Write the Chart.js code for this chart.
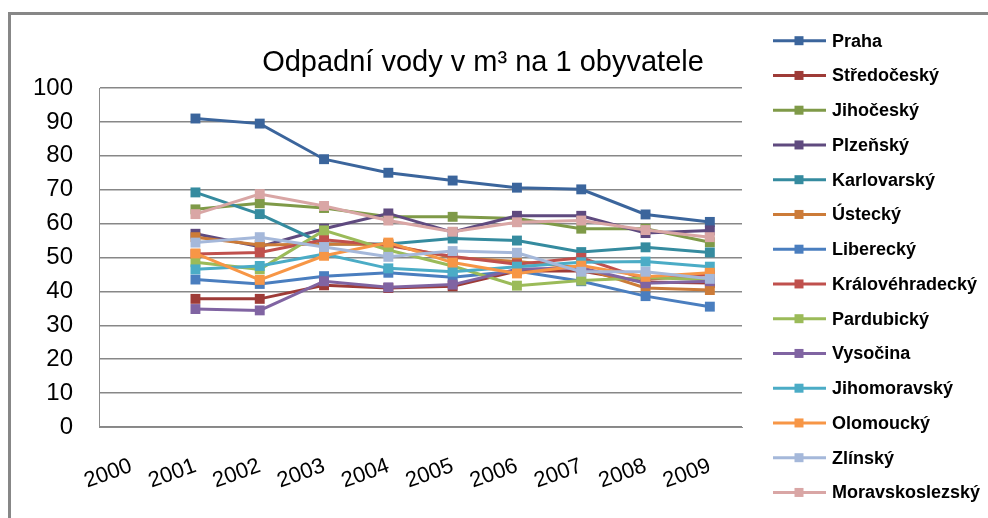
<!DOCTYPE html>
<html>
<head>
<meta charset="utf-8">
<script src="https://cdn.jsdelivr.net/npm/chart.js@4/dist/chart.umd.min.js"></script>
<style>
body{margin:0;background:#fff;overflow:hidden}
#frame{position:absolute;left:8px;top:12px;width:1000px;height:520px;border:3px solid #878787}
#wrap{position:absolute;left:0;top:0;width:988px;height:518px}
</style>
</head>
<body>
<div id="frame"></div>
<div id="wrap"><canvas id="chart" width="988" height="518"></canvas></div>
<script>
let years = ["2000","2001","2002","2003","2004","2005","2006","2007","2008","2009"]

let regions = ["Praha","Středočeský","Jihočeský","Plzeňský","Karlovarský","Ústecký","Liberecký",
"Královéhradecký","Pardubický","Vysočina","Jihomoravský","Olomoucký","Zlínský","Moravskoslezský"]

let colors = ["#3b659c","#9e3b37","#7f9a48","#5f4a7f","#358b9f","#cc7b38","#4a7ebf",
"#c0504d","#9bbb59","#8064a2","#4bacc6","#f79646","#a5b8da","#d9a6a5"]

let praha = [null,91,89.5,79,75,72.7,70.6,70.1,62.7,60.5]
let stredocesky = [null,37.8,37.8,41.8,41,41.5,46,46,42.8,42.5]
let jihocesky = [null,64.2,66,64.6,62,62,61.5,58.5,58.5,54.5]
let plzensky = [null,57,53.2,58.5,63,57.5,62.3,62.3,57.2,58]
let karlovarsky = [null,69.2,62.8,54,54,55.6,55,51.6,53,51.5]
let ustecky = [null,56,53.7,54,53.8,50,48.8,47,41,40.4]
let liberecky = [null,43.5,42.2,44.5,45.5,44.2,46,43,38.6,35.5]
let kralovehradecky = [null,51,51.5,55.2,53.5,50.3,48,49.9,43.5,45]
let pardubicky = [null,48.6,46.5,58,52.2,47.5,41.7,43.2,44,43.5]
let vysocina = [null,34.8,34.4,43,41.2,42,46.5,47,42.4,43]
let jihomoravsky = [null,46.5,47.5,51,46.8,45.8,47.3,48.6,48.8,47.3]
let olomoucky = [null,51.2,43.4,50.5,54.4,48.5,45.3,47.6,44.3,45.5]
let zlinsky = [null,54.4,56,53.1,50.2,51.9,51.4,45.8,45.8,43.7]
let moravskoslezsky = [null,62.8,68.7,65.2,60.9,57.6,60.4,60.9,58.1,56]

let values = [praha,stredocesky,jihocesky,plzensky,karlovarsky,ustecky,liberecky,
kralovehradecky,pardubicky,vysocina,jihomoravsky,olomoucky,zlinsky,moravskoslezsky]

let yTicks = [0,10,20,30,40,50,60,70,80,90,100]

let titleText = "Odpadní vody v m³ na 1 obyvatele"


// title and legend drawn by hand, Excel style
let overlay = {
id:"overlay",
afterDraw(chart){
let ctx = chart.ctx
ctx.save()
ctx.fillStyle = "#000"
ctx.font = "29px 'Liberation Sans'"
ctx.textAlign = "center"
ctx.textBaseline = "middle"
ctx.fillText(titleText,483,63)

ctx.font = "bold 18px 'Liberation Sans'"
ctx.textAlign = "left"
chart.data.datasets.forEach((ds,i)=>{
let y = 40.7 + 34.75*i
ctx.strokeStyle = ds.borderColor
ctx.lineWidth = 3
ctx.beginPath()
ctx.moveTo(773,y)
ctx.lineTo(826,y)
ctx.stroke()
ctx.fillStyle = ds.borderColor
ctx.fillRect(794.5,y-4.5,9,9)
ctx.fillStyle = "#000"
ctx.fillText(ds.label,832,y+1)
})
ctx.restore()
}
}


new Chart(document.getElementById("chart"),{
type:"line",
data:{
labels:years,
datasets:regions.map((name,i)=>({
label:name,
data:values[i],
borderColor:colors[i],
backgroundColor:colors[i],
borderWidth:3,
pointStyle:"rect",
pointRadius:7,
pointBorderWidth:0,
tension:0,
order:-i
}))
},
options:{
responsive:false,
animation:false,
devicePixelRatio:1,
layout:{padding:{top:88,right:246,left:0,bottom:0}},
plugins:{legend:{display:false},title:{display:false},tooltip:{enabled:false}},
scales:{
x:{
offset:true,
grid:{display:false,drawTicks:false},
border:{display:true,color:"#8c8c8c",width:1},
ticks:{autoSkip:false,minRotation:20,maxRotation:20,padding:26,color:"#000",
font:{family:"'Liberation Sans'",size:22}},
afterFit(s){s.height = 91}
},
y:{
min:0,max:100,
afterBuildTicks(s){s.ticks = yTicks.map(v=>({value:v}))},
grid:{color:"#878787",lineWidth:1.5,drawTicks:false},
border:{display:true,color:"#8c8c8c",width:1},
ticks:{padding:26,color:"#000",font:{family:"'Liberation Sans'",size:24}},
afterFit(s){s.width = 99}
}
}
},
plugins:[overlay]
})
</script>
</body>
</html>
